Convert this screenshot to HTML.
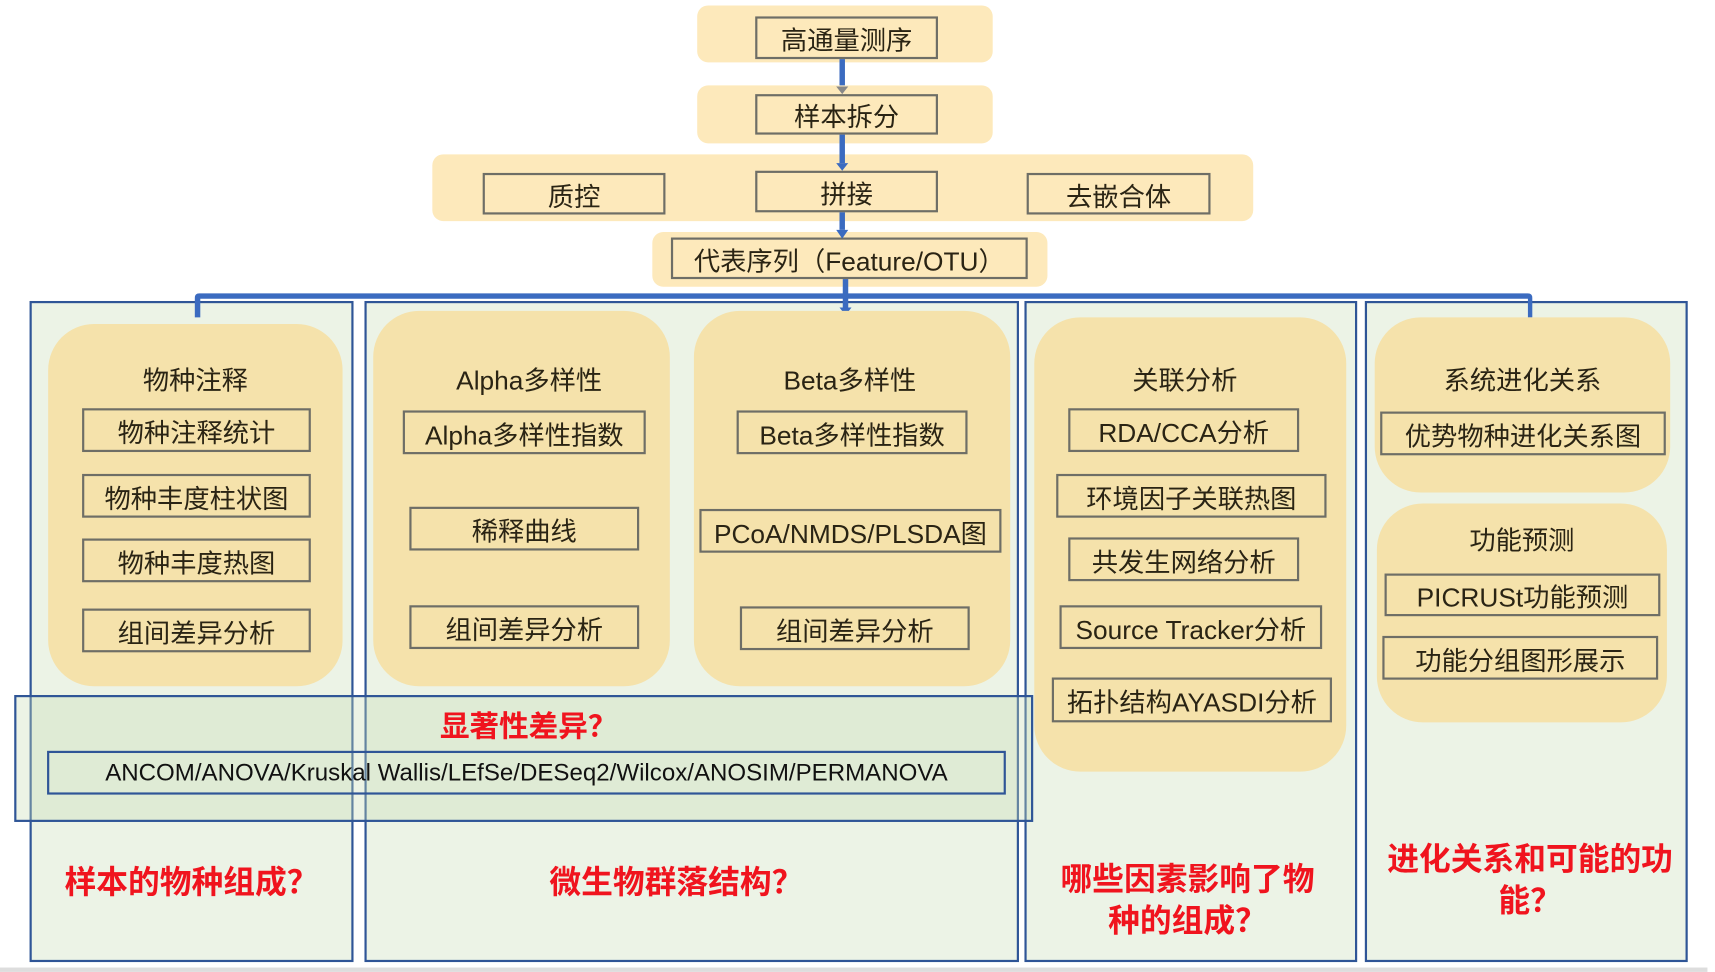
<!DOCTYPE html>
<html><head><meta charset="utf-8"><style>
html,body{margin:0;padding:0;background:#fff;width:1715px;height:971px;overflow:hidden}
#w{position:absolute;left:0;top:0;width:1560px;height:883px;transform:scale(1.0945,1.0945);transform-origin:0 0;font-family:"Liberation Sans","Noto Sans CJK SC",sans-serif;color:#2a2414}
.a{position:absolute;box-sizing:border-box}
.bg{background:#fde9bb;border-radius:10px}
.b{border:2px solid #6e6e66;display:flex;align-items:center;justify-content:center;font-size:24px;white-space:nowrap}
.p{background:#ecf3e6;border:2px solid #2f5597}
.y{background:#f5e2ab;border-radius:42px}
.t{font-size:24px;text-align:center;white-space:nowrap}
.r{color:#f0141e;font-weight:bold;font-size:29px;text-align:center;line-height:38px;font-family:"Noto Sans CJK SC",sans-serif;white-space:nowrap}
</style></head><body><div id="w">
<div class="a bg" style="left:637px;top:5px;width:270px;height:52px"></div>
<div class="a b" style="left:690px;top:15px;width:167px;height:39px">高通量测序</div>
<div class="a bg" style="left:637px;top:78px;width:270px;height:53px"></div>
<div class="a b" style="left:690px;top:86px;width:167px;height:37px">样本拆分</div>
<div class="a bg" style="left:395px;top:141px;width:750px;height:61px"></div>
<div class="a b" style="left:441px;top:158px;width:167px;height:38px">质控</div>
<div class="a b" style="left:690px;top:156px;width:167px;height:38px">拼接</div>
<div class="a b" style="left:938px;top:158px;width:168px;height:38px">去嵌合体</div>
<div class="a bg" style="left:596px;top:212px;width:361px;height:50px"></div>
<div class="a b" style="left:613px;top:217px;width:326px;height:38px">代表序列（Feature/OTU）</div>

<div class="a p" style="left:27px;top:275px;width:296px;height:604px"></div>
<div class="a p" style="left:333px;top:275px;width:598px;height:604px"></div>
<div class="a p" style="left:936px;top:275px;width:304px;height:604px"></div>
<div class="a p" style="left:1247px;top:275px;width:295px;height:604px"></div>

<svg class="a" style="left:0;top:0" width="1560" height="883">
<g fill="#3b6bc0">
<rect x="767" y="54" width="5" height="24"/><rect x="767" y="123" width="5" height="26"/><rect x="767" y="194" width="5" height="16"/>
<rect x="770" y="255" width="5" height="26"/>
<path d="M178 290 V272 Q178 268 182 268 H1396 Q1400 268 1400 272 V290 H1396 V273 H183 V290Z"/>
</g>
<g fill="#3b6bc0"><path d="M764 149h11l-5.5 7z"/><path d="M764 210h11l-5.5 8z"/><path d="M767 281h11l-5.5 7z"/></g>
<path d="M764 79h11l-5.5 7z" fill="#888"/>
</svg>

<div class="a y" style="left:44px;top:296px;width:269px;height:331px"></div>
<div class="a t" style="left:44px;top:328px;width:269px">物种注释</div>
<div class="a b" style="left:75px;top:373px;width:209px;height:40px">物种注释统计</div>
<div class="a b" style="left:75px;top:433px;width:209px;height:40px">物种丰度柱状图</div>
<div class="a b" style="left:75px;top:492px;width:209px;height:40px">物种丰度热图</div>
<div class="a b" style="left:75px;top:556px;width:209px;height:40px">组间差异分析</div>

<div class="a y" style="left:341px;top:284px;width:271px;height:343px"></div>
<div class="a t" style="left:341px;top:328px;width:285px">Alpha多样性</div>
<div class="a b" style="left:368px;top:375px;width:222px;height:40px">Alpha多样性指数</div>
<div class="a b" style="left:374px;top:463px;width:210px;height:40px">稀释曲线</div>
<div class="a b" style="left:374px;top:553px;width:210px;height:40px">组间差异分析</div>

<div class="a y" style="left:634px;top:284px;width:289px;height:343px"></div>
<div class="a t" style="left:634px;top:328px;width:285px">Beta多样性</div>
<div class="a b" style="left:673px;top:375px;width:211px;height:40px">Beta多样性指数</div>
<div class="a b" style="left:639px;top:465px;width:276px;height:40px">PCoA/NMDS/PLSDA图</div>
<div class="a b" style="left:676px;top:554px;width:210px;height:40px">组间差异分析</div>

<div class="a y" style="left:945px;top:290px;width:285px;height:415px"></div>
<div class="a t" style="left:945px;top:328px;width:275px">关联分析</div>
<div class="a b" style="left:976px;top:373px;width:211px;height:40px">RDA/CCA分析</div>
<div class="a b" style="left:965px;top:433px;width:247px;height:40px">环境因子关联热图</div>
<div class="a b" style="left:976px;top:491px;width:211px;height:40px">共发生网络分析</div>
<div class="a b" style="left:968px;top:553px;width:240px;height:40px">Source Tracker分析</div>
<div class="a b" style="left:961px;top:619px;width:256px;height:41px">拓扑结构AYASDI分析</div>

<div class="a y" style="left:1256px;top:290px;width:270px;height:160px"></div>
<div class="a t" style="left:1256px;top:328px;width:270px">系统进化关系</div>
<div class="a b" style="left:1261px;top:376px;width:261px;height:40px">优势物种进化关系图</div>
<div class="a y" style="left:1258px;top:460px;width:265px;height:200px"></div>
<div class="a t" style="left:1258px;top:474px;width:265px">功能预测</div>
<div class="a b" style="left:1265px;top:524px;width:252px;height:39px">PICRUSt功能预测</div>
<div class="a b" style="left:1263px;top:581px;width:252px;height:40px">功能分组图形展示</div>

<div class="a" style="left:13px;top:635px;width:931px;height:116px;border:2px solid #2f5597;background:rgba(200,220,180,0.35)"></div>
<div class="a r" style="left:13px;top:643px;width:940px;font-size:27px">显著性差异？</div>
<div class="a b" style="left:43px;top:686px;width:876px;height:40px;border-color:#2f5597;font-size:22px;color:#111">ANCOM/ANOVA/Kruskal Wallis/LEfSe/DESeq2/Wilcox/ANOSIM/PERMANOVA</div>

<div class="a r" style="left:27px;top:785px;width:296px">样本的物种组成？</div>
<div class="a r" style="left:333px;top:785px;width:570px">微生物群落结构？</div>
<div class="a r" style="left:945px;top:782px;width:280px">哪些因素影响了物<br>种的组成？</div>
<div class="a r" style="left:1262px;top:764px;width:272px">进化关系和可能的功<br>能？</div>
<div class="a" style="left:0;top:884px;width:1560px;height:4px;background:#ddd"></div>
</div></body></html>
